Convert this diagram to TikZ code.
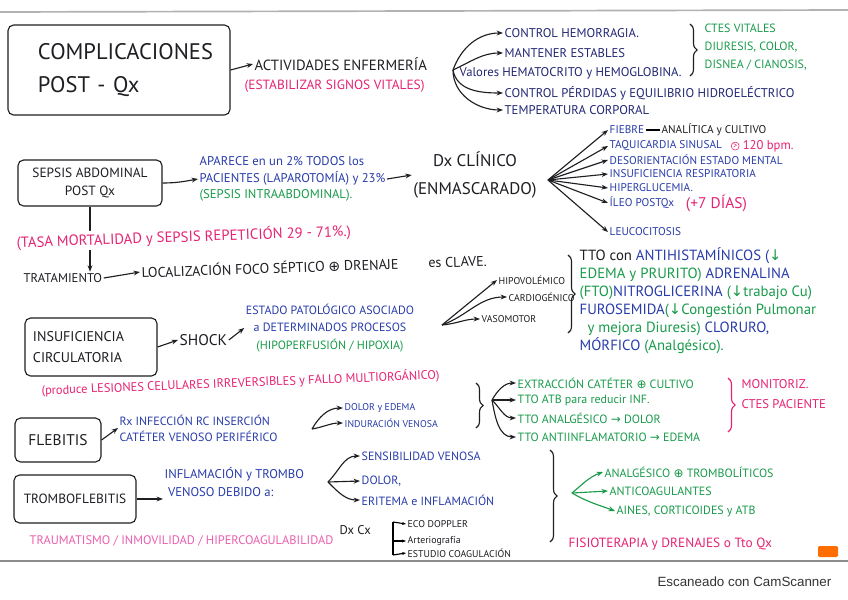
\documentclass[tikz,border=0pt]{standalone}
\usepackage{fontspec}
\setmainfont{PT Sans}
\setsansfont{Liberation Sans}
\newfontfamily\symfont{DejaVu Sans}
\usetikzlibrary{positioning,arrows.meta,decorations.pathreplacing}
\definecolor{inkblack}{RGB}{30,30,35}
\definecolor{inknavy}{RGB}{35,40,115}
\definecolor{inkblue}{RGB}{40,60,170}
\definecolor{inkgreen}{RGB}{25,155,75}
\definecolor{inkpink}{RGB}{230,35,115}
\definecolor{inkrose}{RGB}{235,95,175}
\newcommand{\mas}{{\symfont ⊕}}
\newcommand{\flecha}{{\symfont →}}
\newcommand{\baja}{{\symfont ↓}}
\newcommand{\mayor}{\tikz[baseline=-0.5ex]\node[draw=inkpink, circle, inner sep=0.4pt, text=inkpink, font=\fontsize{6}{6}\selectfont] (gt) {>};}

\begin{document}
\begin{tikzpicture}[x=0.025cm, y=0.025cm,
    every node/.style={font=\fontsize{9}{12}\selectfont, inner sep=1pt, text=inkblack},
    caja/.style={draw=inkblack, thick, rounded corners=4pt},
    navy/.style={text=inknavy},
    azul/.style={text=inkblue},
    verde/.style={text=inkgreen},
    rosa/.style={text=inkpink},
    chico/.style={font=\fontsize{7}{9}\selectfont},
    medio/.style={font=\fontsize{8}{10}\selectfont},
    arrow/.style={-{Stealth[length=1.6mm]}, thick, inkblack},
    arrowg/.style={arrow, inkgreen},
    llave/.style={decorate, decoration={brace, amplitude=5pt}, thick, inkblack}
]
    \useasboundingbox (0,0) rectangle (848,-599);
    \fill[white] (0,0) rectangle (848,-599);
    \draw[black!30, line width=1.2pt] (0,-12) -- (848,-10);
    \draw[black!45, line width=1.5pt] (0,-561) -- (848,-561);

    % Complicaciones post-Qx
    \node[caja, minimum width=5.55cm, minimum height=2.25cm, text width=4.05cm, align=left,
          font=\fontsize{16}{24}\selectfont] (comp) at (119,-70) {COMPLICACIONES\\POST - Qx};
    \node[anchor=west, font=\fontsize{10.5}{12}\selectfont] (act) at (253,-64) {ACTIVIDADES ENFERMERÍA};
    \node[rosa, anchor=west, font=\fontsize{9.5}{11}\selectfont] (estab) at (243,-86) {(ESTABILIZAR SIGNOS VITALES)};
    \draw[arrow] (comp.east) -- (act.west);

    \coordinate (fa) at (453,-70);
    \node[navy, anchor=west] (hem) at (503,-33) {CONTROL HEMORRAGIA.};
    \node[navy, anchor=west] (mant) at (503,-53) {MANTENER ESTABLES};
    \node[navy, anchor=west] (valo) at (458,-73) {Valores HEMATOCRITO y HEMOGLOBINA.};
    \node[navy, anchor=west] (perd) at (503,-93) {CONTROL PÉRDIDAS y EQUILIBRIO HIDROELÉCTRICO};
    \node[navy, anchor=west] (temp) at (503,-110) {TEMPERATURA CORPORAL};
    \draw[arrow] (fa) to[out=70, in=180] (hem.west);
    \draw[arrow] (fa) to[out=25, in=180] (mant.west);
    \draw[arrow] (fa) to[out=-80, in=180] (perd.west);
    \draw[arrow] (fa) to[out=-90, in=180] (temp.west);

    \draw[llave] (690,-24) -- (690,-76);
    \node[verde, anchor=north west, align=left, font=\fontsize{8.5}{12.8}\selectfont] (ctes) at (703,-22)
        {CTES VITALES\\DIURESIS, COLOR,\\DISNEA / CIANOSIS,};

    % Sepsis abdominal
    \node[caja, minimum width=3.6cm, minimum height=1.15cm, align=center,
          font=\fontsize{9.5}{13}\selectfont] (sep) at (90,-183) {SEPSIS ABDOMINAL\\POST Qx};
    \node[azul, anchor=west, align=left, font=\fontsize{9}{11.5}\selectfont] (apa) at (198,-179)
        {APARECE en un 2\% TODOS los\\PACIENTES (LAPAROTOMÍA) y 23\%\\\textcolor{inkgreen}{(SEPSIS INTRAABDOMINAL).}};
    \draw[arrow] (sep.east) to[out=0, in=190] (apa.west);
    \node[align=center, font=\fontsize{12}{20}\selectfont] (dx) at (475,-175) {Dx CLÍNICO\\(ENMASCARADO)};
    \draw[arrow] (apa.east) -- (dx.west);

    \coordinate (fb) at (548,-180);
    \node[azul, medio, anchor=west] (fie) at (608,-130) {FIEBRE};
    \node[medio, right=10pt of fie] (ana) {ANALÍTICA y CULTIVO};
    \draw[thick] (fie.east) -- (ana.west);
    \node[azul, medio, anchor=west] (taq) at (608,-146) {TAQUICARDIA SINUSAL};
    \node[rosa, right=4pt of taq] (bpm) {\mayor\ 120 bpm.};
    \node[azul, medio, anchor=west] (des) at (608,-160) {DESORIENTACIÓN ESTADO MENTAL};
    \node[azul, medio, anchor=west] (insr) at (608,-174) {INSUFICIENCIA RESPIRATORIA};
    \node[azul, medio, anchor=west] (hipo) at (608,-188) {HIPERGLUCEMIA.};
    \node[azul, medio, anchor=west] (ileo) at (608,-203) {ÍLEO POSTQx};
    \node[rosa, right=6pt of ileo, font=\fontsize{11}{13}\selectfont] (dias) {(+7 DÍAS)};
    \node[azul, medio, anchor=west] (leu) at (608,-232) {LEUCOCITOSIS};
    \foreach \n in {fie,taq,des,insr,hipo,ileo,leu}
        \draw[arrow] (fb) -- (\n.west);

    % Tratamiento
    \node[anchor=west] (trat) at (22,-278) {TRATAMIENTO};
    \node[anchor=west, rotate=2, font=\fontsize{10}{12}\selectfont] (loc) at (140,-272)
        {LOCALIZACIÓN FOCO SÉPTICO \mas\ DRENAJE \hspace{16pt} es CLAVE.};
    \draw[arrow] (trat.east) -- (loc.west);
    \draw[arrow] (sep.south) -- (sep.south |- trat.north);
    \node[rosa, anchor=west, rotate=2, fill=white, font=\fontsize{10.5}{12}\selectfont] (tasa) at (15,-243)
        {(TASA MORTALIDAD y SEPSIS REPETICIÓN 29 - 71\%.)};

    % Insuficiencia circulatoria
    \node[caja, minimum width=3.3cm, minimum height=1.45cm, text width=2.9cm, align=left,
          font=\fontsize{10}{15}\selectfont] (insc) at (91,-347) {INSUFICIENCIA\\CIRCULATORIA};
    \node[anchor=west, font=\fontsize{11}{13}\selectfont] (shock) at (178,-340) {SHOCK};
    \draw[arrow] (insc.east) -- (shock.west);
    \node[azul, align=center, font=\fontsize{8.5}{12.5}\selectfont] (estado) at (330,-328)
        {ESTADO PATOLÓGICO ASOCIADO\\a DETERMINADOS PROCESOS\\\textcolor{inkgreen}{(HIPOPERFUSIÓN / HIPOXIA)}};
    \draw[arrow] (shock.east) -- (estado.west);

    \coordinate (fc) at (442,-325);
    \node[chico, anchor=west] (hvol) at (497,-280) {HIPOVOLÉMICO};
    \node[chico, anchor=west] (card) at (507,-297) {CARDIOGÉNICO};
    \node[chico, anchor=west] (vaso) at (480,-319) {VASOMOTOR};
    \draw[arrow] (fc) -- (hvol.west);
    \draw[arrow] (fc) to[out=20, in=180] (card.west);
    \draw[arrow] (fc) to[out=5, in=180] (vaso.west);

    \draw[llave] (568,-255) -- (568,-333);
    \node[azul, anchor=north west, align=left, font=\fontsize{10.5}{12.8}\selectfont] (tto) at (578,-246)
        {\textcolor{inkblack}{TTO con} ANTIHISTAMÍNICOS (\textcolor{inkgreen}{\baja}\\
         \textcolor{inkgreen}{EDEMA y PRURITO)} ADRENALINA\\
         \textcolor{inkgreen}{(FTO)}NITROGLICERINA \textcolor{inkgreen}{(\baja trabajo Cu)}\\
         FUROSEMIDA\textcolor{inkgreen}{(\baja Congestión Pulmonar}\\
         \textcolor{inkgreen}{\ \ y mejora Diuresis)} CLORURO,\\
         MÓRFICO \textcolor{inkgreen}{(Analgésico).}};

    \node[rosa, anchor=west, rotate=2.3, font=\fontsize{8.8}{10}\selectfont] (lesion) at (40,-391)
        {(produce LESIONES CELULARES IRREVERSIBLES y FALLO MULTIORGÁNICO)};

    % Flebitis
    \node[caja, minimum width=2.15cm, minimum height=1.1cm, font=\fontsize{11}{13}\selectfont] (fleb) at (58,-440) {FLEBITIS};
    \node[azul, anchor=west, align=left, font=\fontsize{8.5}{11.5}\selectfont] (rx) at (118,-428)
        {Rx INFECCIÓN RC INSERCIÓN\\CATÉTER VENOSO PERIFÉRICO};
    \draw[arrow] (fleb.east) -- (rx.west);
    \coordinate (fd) at (312,-429);
    \node[azul, chico, anchor=west] (dolo) at (343,-408) {DOLOR y EDEMA};
    \node[azul, chico, anchor=west] (indu) at (343,-423) {INDURACIÓN VENOSA};
    \draw[arrow] (fd) to[out=60, in=180] (dolo.west);
    \draw[arrow] (fd) to[out=10, in=180] (indu.west);

    \draw[llave] (476,-383) -- (476,-428);
    \coordinate (fe) at (492,-400);
    \node[verde, anchor=west, font=\fontsize{8.5}{10}\selectfont] (extr) at (516,-383) {EXTRACCIÓN CATÉTER \mas\ CULTIVO};
    \node[verde, anchor=west, font=\fontsize{8.5}{10}\selectfont] (tatb) at (516,-400) {TTO ATB para reducir INF.};
    \node[verde, anchor=west, font=\fontsize{8.5}{10}\selectfont] (tanal) at (516,-418) {TTO ANALGÉSICO \flecha\ DOLOR};
    \node[verde, anchor=west, font=\fontsize{8.5}{10}\selectfont] (tanti) at (516,-437) {TTO ANTIINFLAMATORIO \flecha\ EDEMA};
    \draw[arrow] (fe) to[out=60, in=180] (extr.west);
    \draw[arrow] (fe) -- (tatb.west);
    \draw[arrow] (fe) to[out=-45, in=180] (tanal.west);
    \draw[arrow] (fe) to[out=-80, in=180] (tanti.west);

    \draw[llave, inkpink] (728,-378) -- (728,-432);
    \node[rosa, anchor=north west, align=left, font=\fontsize{9}{14}\selectfont] (moni) at (740,-378)
        {MONITORIZ.\\CTES PACIENTE};

    % Tromboflebitis
    \node[caja, minimum width=3.05cm, minimum height=1.2cm, font=\fontsize{9.5}{12}\selectfont] (trom) at (75,-499) {TROMBOFLEBITIS};
    \node[azul, anchor=west, align=left, font=\fontsize{9}{13}\selectfont] (infl) at (163,-482)
        {INFLAMACIÓN y TROMBO\\\ VENOSO DEBIDO a:};
    \draw[arrow] (trom.east) -- (trom.east -| infl.west);
    \coordinate (ff) at (328,-482);
    \node[azul, anchor=west, font=\fontsize{8.5}{10}\selectfont] (sens) at (360,-456) {SENSIBILIDAD VENOSA};
    \node[azul, anchor=west, font=\fontsize{8.5}{10}\selectfont] (dolr) at (360,-481) {DOLOR,};
    \node[azul, anchor=west, font=\fontsize{8.5}{10}\selectfont] (erit) at (360,-500) {ERITEMA e INFLAMACIÓN};
    \draw[arrow] (ff) to[out=45, in=180] (sens.west);
    \draw[arrow] (ff) -- (dolr.west);
    \draw[arrow] (ff) to[out=-45, in=180] (erit.west);

    \node[anchor=west] (dxcx) at (338,-530) {Dx Cx};
    \node[chico, anchor=west] (eco) at (406,-524) {ECO DOPPLER};
    \node[chico, anchor=west] (arte) at (406,-541) {Arteriografía};
    \node[chico, anchor=west] (estu) at (406,-553) {ESTUDIO COAGULACIÓN};
    \coordinate (dxa) at (393,-522);
    \coordinate (dxb) at (393,-555);
    \draw[thick] (dxa) -- (dxb);
    \draw[-{Stealth[length=1mm]}, thick] (dxa) -- (eco.west);
    \draw[-{Stealth[length=1mm]}, thick] (dxa |- arte.west) -- (arte.west);
    \draw[-{Stealth[length=1mm]}, thick] (dxb) -- (estu.west);

    \draw[llave] (550,-450) -- (550,-542);
    \coordinate (fg) at (572,-493);
    \node[verde, anchor=west, font=\fontsize{8.5}{10}\selectfont] (analg) at (603,-472) {ANALGÉSICO \mas\ TROMBOLÍTICOS};
    \node[verde, anchor=west, font=\fontsize{8.5}{10}\selectfont] (antic) at (608,-491) {ANTICOAGULANTES};
    \node[verde, anchor=west, font=\fontsize{8.5}{10}\selectfont] (aines) at (615,-511) {AINES, CORTICOIDES y ATB};
    \draw[arrowg] (fg) to[out=40, in=200] (analg.west);
    \draw[arrowg] (fg) -- (antic.west);
    \draw[arrowg] (fg) to[out=-30, in=160] (aines.west);

    \node[rosa, anchor=west, font=\fontsize{9.5}{11}\selectfont] (fisio) at (567,-544) {FISIOTERAPIA y DRENAJES o Tto Qx};
    \node[anchor=west, text=inkrose, font=\fontsize{8.8}{10}\selectfont] (traum) at (28,-541)
        {TRAUMATISMO / INMOVILIDAD / HIPERCOAGULABILIDAD};

    \fill[orange!85!red, rounded corners=1pt] (818,-546) rectangle (838,-557);
    \node[anchor=east, text=black!80, font=\sffamily\fontsize{9.5}{11}\selectfont] (cams) at (833,-582) {Escaneado con CamScanner};
\end{tikzpicture}
\end{document}
